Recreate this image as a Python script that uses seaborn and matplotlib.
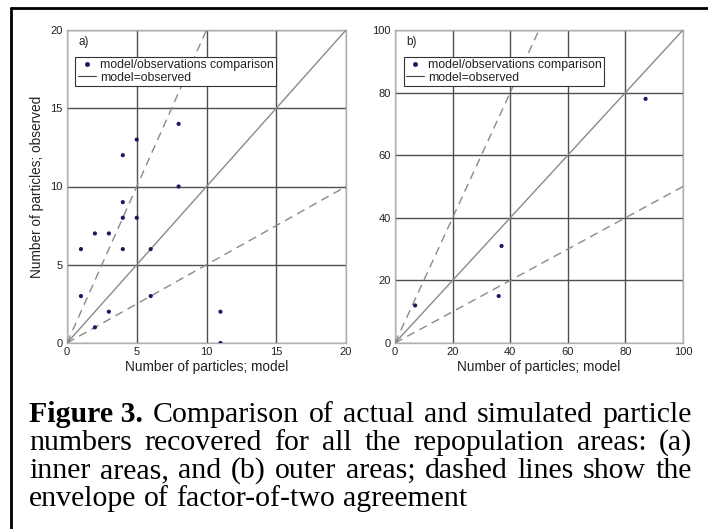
import matplotlib
matplotlib.use("Agg")
import matplotlib.pyplot as plt
import seaborn as sns
import pandas as pd
import numpy as np
from matplotlib.lines import Line2D

# ---- data ----
a_model = [1, 1, 2, 2, 3, 3, 4, 4, 4, 4, 5, 5, 6, 6, 8, 8, 11, 11]
a_obs   = [6, 3, 7, 1, 7, 2, 12, 9, 8, 6, 13, 8, 6, 3, 14, 10, 2, 0]
b_model = [7, 37, 36, 87]
b_obs   = [12, 31, 15, 78]
a_ticks = [0, 5, 10, 15, 20]
b_ticks = [0, 20, 40, 60, 80, 100]
panel_labels = ["a)", "b)"]
legend_labels = ["model/observations comparison", "model=observed"]
xlabel = "Number of particles; model"
ylabel = "Number of particles; observed"
caption_lines = [
    ["Figure 3.", "Comparison of actual and simulated particle"],
    ["", "numbers recovered for all the repopulation areas:  (a)"],
    ["", "inner areas, and (b) outer areas; dashed lines show the"],
    ["", "envelope of factor-of-two agreement"],
]

sns.set_theme(style="white")
plt.rcParams['font.family'] = ['Liberation Sans', 'DejaVu Sans']

fig = plt.figure(figsize=(7.08, 5.29), dpi=100)
ax_a = fig.add_axes([67/708, 1-343/529, 279/708, 313/529])
ax_b = fig.add_axes([395/708, 1-343/529, 288/708, 313/529])

dot_color = "#1a1a5e"
line_color = "#8a8a8a"

for ax, xm, yo, ticks, lab in [(ax_a, a_model, a_obs, a_ticks, panel_labels[0]),
                                (ax_b, b_model, b_obs, b_ticks, panel_labels[1])]:
    lim = ticks[-1]
    ref = pd.DataFrame({"x": [0, lim], "y": [0, lim]})
    up = pd.DataFrame({"x": [0, lim / 2], "y": [0, lim]})
    lo = pd.DataFrame({"x": [0, lim], "y": [0, lim / 2]})
    sns.lineplot(data=ref, x="x", y="y", ax=ax, color=line_color, lw=1.0, zorder=3)
    sns.lineplot(data=up, x="x", y="y", ax=ax, color=line_color, lw=1.0,
                 linestyle=(0, (6, 4)), zorder=3)
    sns.lineplot(data=lo, x="x", y="y", ax=ax, color=line_color, lw=1.0,
                 linestyle=(0, (6, 4)), zorder=3)
    df = pd.DataFrame({"m": xm, "o": yo})
    sns.scatterplot(data=df, x="m", y="o", ax=ax, color=dot_color, s=9,
                    edgecolor="none", zorder=4)
    ax.set_xlim(0, lim)
    ax.set_ylim(0, lim)
    ax.set_xticks(ticks)
    ax.set_yticks(ticks)
    ax.grid(True, color="#505050", lw=1.0)
    ax.set_axisbelow(True)
    for s in ax.spines.values():
        s.set_color("#b0b0b0")
        s.set_linewidth(1.0)
    ax.tick_params(length=0, labelsize=8, pad=3, colors="#222222")
    ax.set_xlabel(xlabel, fontsize=9.8, labelpad=2, color="#222222")
    ax.set_ylabel("")
    ax.text(0.04, 0.962, lab, transform=ax.transAxes, fontsize=8.5, va="center",
            ha="left", color="#222222")
    handles = [Line2D([], [], marker="o", ls="none", color=dot_color, markersize=2.5),
               Line2D([], [], color="#444444", lw=0.8)]
    leg = ax.legend(handles, legend_labels, loc="upper left",
                    bbox_to_anchor=(0.03, 0.915), fontsize=8.8, frameon=True,
                    fancybox=False, edgecolor="#333333", framealpha=1,
                    borderpad=0.2, handlelength=1.5, handletextpad=0.3,
                    labelspacing=0.05, borderaxespad=0)
    leg.get_frame().set_linewidth(0.8)
    for t in leg.get_texts():
        t.set_color("#222222")

ax_a.set_ylabel(ylabel, fontsize=9.8, labelpad=5, color="#222222")

# border lines
fig.add_artist(Line2D([11/708, 1], [1-8/529, 1-8/529], transform=fig.transFigure,
                      color="black", lw=2))
fig.add_artist(Line2D([11/708, 11/708], [0, 1-8/529], transform=fig.transFigure,
                      color="black", lw=2))

# caption with justification
fig.canvas.draw()
renderer = fig.canvas.get_renderer()
serif = ["Liberation Serif", "DejaVu Serif"]
probe = fig.text(0, 0, "Figure 3.", fontsize=15, fontweight="bold", family=serif)
fs = 15 * 114 / probe.get_window_extent(renderer).width
probe.remove()

left_px, right_px = 29, 692
baselines = [422, 450, 478, 506]
sp = fig.text(0, 0, "a a", fontsize=fs, family=serif)
sp2 = fig.text(0, 0, "aa", fontsize=fs, family=serif)
space_w = sp.get_window_extent(renderer).width - sp2.get_window_extent(renderer).width
sp.remove(); sp2.remove()

for i, (bold, rest) in enumerate(caption_lines):
    words = []
    if bold:
        words.append((bold, "bold"))
    words += [(w, "normal") for w in rest.split()]
    texts = []
    widths = []
    for w, wt in words:
        t = fig.text(0, 0, w, fontsize=fs, fontweight=wt, family=serif,
                     color="black", va="baseline", ha="left")
        texts.append(t)
        widths.append(t.get_window_extent(renderer).width)
    y = 1 - baselines[i] / 529
    if i < len(caption_lines) - 1 and len(words) > 1:
        gap = (right_px - left_px - sum(widths)) / (len(words) - 1)
    else:
        gap = space_w
    x = left_px
    for t, w in zip(texts, widths):
        t.set_position((x / 708, y))
        x += w + gap

fig.savefig("out.png", dpi=100)
